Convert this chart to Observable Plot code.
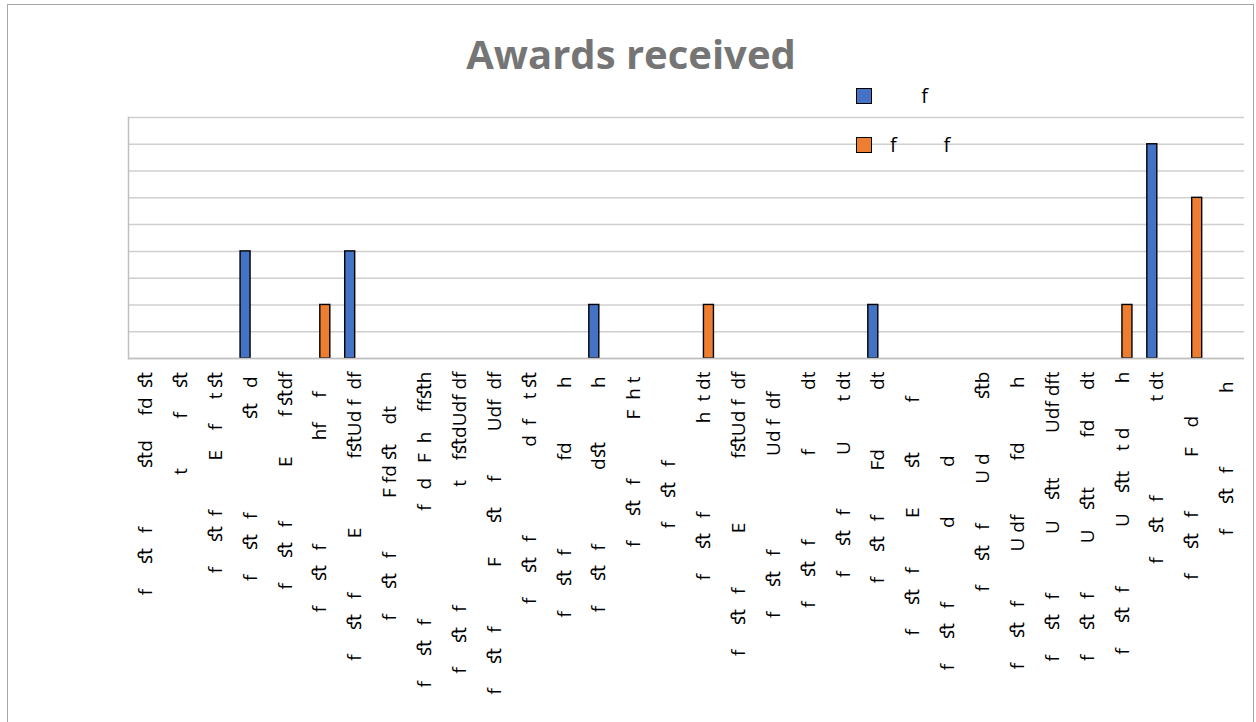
<!DOCTYPE html>
<html>
<head>
<meta charset="utf-8">
<script src="https://cdn.jsdelivr.net/npm/d3@7"></script>
<script src="https://cdn.jsdelivr.net/npm/@observablehq/plot@0.6"></script>
<style>
  html, body { margin: 0; padding: 0; background: #fff; }
  #wrap { position: relative; width: 1256px; height: 722px; overflow: hidden; }
  #border { position: absolute; left: 7px; top: 4px; width: 1247px; height: 800px; border: 1.5px solid #a6a6a6; box-sizing: border-box; }
  #title { position: absolute; left: 8px; width: 1246px; top: 34px; text-align: center; font-family: "Open Sans"; font-weight: bold; font-size: 40px; line-height: 40px; color: #757575; z-index: 3; }
  .lg-sw { position: absolute; left: 856px; width: 16px; height: 16px; border: 1.5px solid #000; box-sizing: border-box; z-index: 3; }
  .lg-tx { position: absolute; left: 890px; font-family: "Open Sans"; font-size: 20px; line-height: 20px; color: #000; white-space: pre; z-index: 3; }
  #chart { position: absolute; left: 0; top: 0; z-index: 2; }
  svg text { white-space: pre; }
</style>
</head>
<body>
<div id="wrap">
  <div id="border"></div>
  <div id="title"></div>
  <div id="legend"></div>
  <div id="chart"></div>
</div>
<script>
// ---- data ----
const title = "Awards received";
const seriesNames = ["      f", "f         f"];
const seriesColors = ["#4472c4", "#ed7d31"];
const categories = [
  "f     ﬆ   f            ﬆd     fd  ﬆ",
  "t          f     ﬆ",
  "f     ﬆ  f          E    f     t ﬆ",
  "f     ﬆ   f                   ﬆ   d ",
  "f     ﬆ   f           E        f ﬆdf",
  "f     ﬆ   f                     hf     f    ",
  "f     ﬆ   f           E              fﬆUd f  df",
  "f     ﬆ   f           F fd ﬆ    dt       ",
  "f     ﬆ   f                      f   d   F  h    ffﬆh",
  "f     ﬆ   f                        t    fﬆdUdf df",
  "f     ﬆ   f            F       ﬆ     f         Udf  df",
  "f     ﬆ   f                  d  f    t ﬆ",
  "f     ﬆ   f                  fd           h ",
  "f     ﬆ   f               dﬆ           h ",
  "f     ﬆ   f            F  h t ",
  "f     ﬆ   f                  ",
  "f     ﬆ   f                  h  t dt",
  "f     ﬆ   f           E             fﬆUd f  df",
  "f     ﬆ   f                   Ud f  df    ",
  "f     ﬆ   f                 f            dt",
  "f     ﬆ   f           U        t dt",
  "f     ﬆ   f         Fd            dt",
  "f     ﬆ   f          E        ﬆ          f     ",
  "f     ﬆ   f               d          d                 ",
  "f     ﬆ   f        U d           ﬆb",
  "f     ﬆ   f          U df           fd           h ",
  "f     ﬆ   f            U    ﬆt         Udf dft",
  "f     ﬆ   f          U    ﬆt          fd      dt",
  "f     ﬆ   f            U    ﬆt    t d         h",
  "f     ﬆ   f                   t dt",
  "f     ﬆ   f           F    d         ",
  "f     ﬆ   f               h  "
];
const blueValues   = [0,0,0,4,0,0,4,0,0,0,0,0,0,2,0,0,0,0,0,0,0,2,0,0,0,0,0,0,0,8,0,0];
const orangeValues = [0,0,0,0,0,2,0,0,0,0,0,0,0,0,0,0,2,0,0,0,0,0,0,0,0,0,0,0,2,0,6,0];
const yTicks = [0,1,2,3,4,5,6,7,8,9];

// ---- title & legend ----
document.getElementById("title").textContent = title;
const legend = document.getElementById("legend");
seriesNames.forEach((name, k) => {
  const top = 88 + k * 49;
  const sw = document.createElement("div");
  sw.className = "lg-sw";
  sw.style.top = top + "px";
  sw.style.background = seriesColors[k];
  legend.appendChild(sw);
  const tx = document.createElement("div");
  tx.className = "lg-tx";
  tx.style.top = (top - 2) + "px";
  tx.textContent = name;
  legend.appendChild(tx);
});

// ---- chart ----
const idx = d3.range(categories.length);
const blueData = idx.map(i => ({i, v: blueValues[i]})).filter(d => d.v > 0);
const orangeData = idx.map(i => ({i, v: orangeValues[i]})).filter(d => d.v > 0);

const chart = Plot.plot({
  width: 1256,
  height: 722,
  marginLeft: 128,
  marginRight: 12,
  marginTop: 117,
  marginBottom: 364,
  style: {fontFamily: "Open Sans", fontSize: "19px", color: "#000", background: "transparent"},
  x: {domain: idx, paddingInner: 0.713, paddingOuter: 0.3565, align: 0.5, round: false, axis: null},
  y: {domain: [0, 9], axis: null},
  marks: [
    Plot.ruleY(yTicks, {stroke: "#cfcfcf", strokeWidth: 1.5}),
    Plot.frame({anchor: "left", stroke: "#bfbfbf", strokeWidth: 1.5}),
    Plot.barY(blueData, {x: "i", y: "v", fill: seriesColors[0], stroke: "#000", strokeWidth: 1.4, dx: -5}),
    Plot.barY(orangeData, {x: "i", y: "v", fill: seriesColors[1], stroke: "#000", strokeWidth: 1.4, dx: 5}),
    Plot.ruleY([0], {stroke: "#bfbfbf", strokeWidth: 1.5}),
    Plot.axisX({tickSize: 0, tickPadding: 13, tickRotate: -90, tickFormat: i => categories[i], fontSize: 19, label: null, fill: "#000"})
  ]
});
chart.querySelectorAll("text").forEach(t => t.setAttribute("xml:space", "preserve"));
document.getElementById("chart").appendChild(chart);
</script>
</body>
</html>
